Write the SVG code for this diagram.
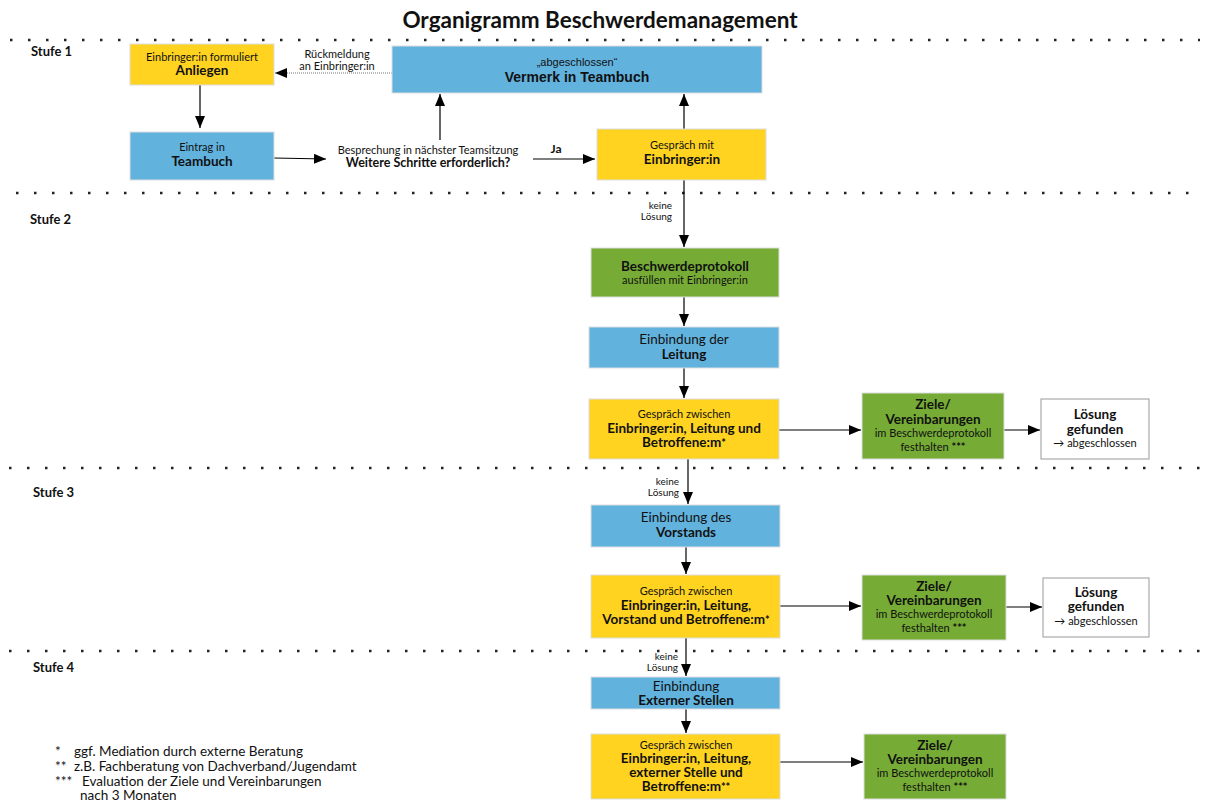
<svg xmlns="http://www.w3.org/2000/svg" width="1208" height="802" viewBox="0 0 1208 802">
<defs>
<marker id="ah" markerWidth="12" markerHeight="10" refX="12" refY="5" orient="auto" markerUnits="userSpaceOnUse">
<path d="M0,0 L12,5 L0,10 Z" fill="#000"/>
</marker>
<style>
text{font-family:Lato,"Noto Sans",sans-serif;fill:#111;text-anchor:middle}
.b{font-weight:bold}
.s{font-size:11px}
.t{font-size:13.5px}
.ar{font-family:"Liberation Sans",Arial,sans-serif}
.y{fill:#FFD320;stroke:#ddd;stroke-width:1}
.bl{fill:#62B2DE;stroke:#ddd;stroke-width:1}
.g{fill:#76AC36;stroke:#ddd;stroke-width:1}
.w{fill:#fff;stroke:#999;stroke-width:1}
.c{stroke:#000;stroke-width:1.2;fill:none;marker-end:url(#ah)}
.dot{stroke:#222;stroke-width:2.5;stroke-dasharray:2.5 15.5}
.st{font-size:13px;font-weight:bold;text-anchor:start}
.fn{font-size:13.5px;text-anchor:start}
.sup{font-size:11px;font-weight:bold}
</style>
</defs>
<rect width="1208" height="802" fill="#fff"/>
<text x="600" y="28" class="b" style="font-size:22.5px">Organigramm Beschwerdemanagement</text>
<g id="separators">
<line x1="10" y1="40" x2="1200" y2="40" class="dot"/>
<line x1="16" y1="193" x2="1200" y2="193" class="dot"/>
<line x1="9" y1="468" x2="1200" y2="468" class="dot"/>
<line x1="9" y1="651" x2="1200" y2="651" class="dot"/>
<text x="31" y="56" class="st">Stufe 1</text>
<text x="30" y="224" class="st">Stufe 2</text>
<text x="33" y="497" class="st">Stufe 3</text>
<text x="33" y="672" class="st">Stufe 4</text>
</g>
<g id="connectors">
<line x1="392" y1="73" x2="275" y2="73" class="c" style="stroke:#777;stroke-dasharray:1 1"/>
<text x="337" y="58" class="s">Rückmeldung</text>
<text x="337" y="70" class="s">an Einbringer:in</text>
<line x1="200" y1="85" x2="200" y2="128" class="c"/>
<line x1="274" y1="158" x2="326" y2="159" class="c"/>
<line x1="533" y1="159" x2="595" y2="159" class="c"/>
<text x="556" y="153" class="b" style="font-size:12px">Ja</text>
<line x1="440" y1="140" x2="440" y2="94" class="c"/>
<line x1="684" y1="129" x2="684" y2="94" class="c"/>
<line x1="684" y1="180" x2="684" y2="247" class="c"/>
<text x="672" y="209" style="font-size:10px;text-anchor:end">keine</text>
<text x="672" y="220" style="font-size:10px;text-anchor:end">Lösung</text>
<line x1="684" y1="297" x2="684" y2="326" class="c"/>
<line x1="684" y1="368" x2="684" y2="398" class="c"/>
<line x1="779" y1="430" x2="861" y2="430" class="c"/>
<line x1="1004" y1="430" x2="1040" y2="430" class="c"/>
<line x1="688" y1="459" x2="688" y2="504" class="c"/>
<text x="679" y="485" style="font-size:10px;text-anchor:end">keine</text>
<text x="679" y="496" style="font-size:10px;text-anchor:end">Lösung</text>
<line x1="686" y1="547" x2="686" y2="574" class="c"/>
<line x1="780" y1="606" x2="861" y2="606" class="c"/>
<line x1="1006" y1="607" x2="1042" y2="607" class="c"/>
<line x1="686" y1="638" x2="686" y2="676" class="c"/>
<text x="678" y="660" style="font-size:10px;text-anchor:end">keine</text>
<text x="678" y="671" style="font-size:10px;text-anchor:end">Lösung</text>
<line x1="686" y1="709" x2="686" y2="733" class="c"/>
<line x1="780" y1="762" x2="863" y2="762" class="c"/>
</g>
<g id="anliegen">
<rect x="130" y="44" width="144" height="41" class="y"/>
<text x="202" y="61" class="s">Einbringer:in formuliert</text>
<text x="202" y="75" class="b t">Anliegen</text>
</g>
<g id="eintrag">
<rect x="130" y="132" width="144" height="48" class="bl"/>
<text x="202" y="151" class="s">Eintrag in</text>
<text x="202" y="166" class="b t">Teambuch</text>
</g>
<g id="vermerk">
<rect x="392" y="46" width="370" height="47" class="bl"/>
<text x="577" y="66" class="ar" style="font-size:11px">„abgeschlossen“</text>
<text x="577" y="82" class="ar b" style="font-size:14px">Vermerk in Teambuch</text>
</g>
<g id="besprechung">
<text x="428" y="154" class="s">Besprechung in nächster Teamsitzung</text>
<text x="428" y="167" class="b" style="font-size:12.5px">Weitere Schritte erforderlich?</text>
</g>
<g id="gespraech-mit">
<rect x="597" y="129" width="169" height="51" class="y"/>
<text x="682" y="149" class="s">Gespräch mit</text>
<text x="682" y="164" class="b t">Einbringer:in</text>
</g>
<g id="protokoll">
<rect x="591" y="248" width="188" height="49" class="g"/>
<text x="685" y="271" class="b t">Beschwerdeprotokoll</text>
<text x="685" y="284" class="s">ausfüllen mit Einbringer:in</text>
</g>
<g id="leitung">
<rect x="589" y="327" width="190" height="41" class="bl"/>
<text x="684" y="344" class="t">Einbindung der</text>
<text x="684" y="359" class="b t">Leitung</text>
</g>
<g id="gespraech-2">
<rect x="589" y="399" width="190" height="60" class="y"/>
<text x="684" y="418" class="s">Gespräch zwischen</text>
<text x="684" y="433" class="b t">Einbringer:in, Leitung und</text>
<text x="684" y="447" class="b t">Betroffene:m<tspan class="sup">*</tspan></text>
</g>
<g id="ziele-2">
<rect x="862" y="393" width="142" height="66" class="g"/>
<text x="933" y="409" class="b t">Ziele/</text>
<text x="933" y="424" class="b t">Vereinbarungen</text>
<text x="933" y="437" class="s">im Beschwerdeprotokoll</text>
<text x="933" y="451" class="s">festhalten <tspan class="sup">***</tspan></text>
</g>
<g id="loesung-2">
<rect x="1041" y="399" width="108" height="60" class="w"/>
<text x="1095" y="419" class="b t">Lösung</text>
<text x="1095" y="434" class="b t">gefunden</text>
<text x="1095" y="447" class="s">→ abgeschlossen</text>
</g>
<g id="vorstand">
<rect x="591" y="505" width="189" height="42" class="bl"/>
<text x="686" y="522" class="t">Einbindung des</text>
<text x="686" y="537" class="b t">Vorstands</text>
</g>
<g id="gespraech-3">
<rect x="591" y="575" width="189" height="63" class="y"/>
<text x="686" y="595" class="s">Gespräch zwischen</text>
<text x="686" y="610" class="b t">Einbringer:in, Leitung,</text>
<text x="686" y="624" class="b t">Vorstand und Betroffene:m<tspan class="sup">*</tspan></text>
</g>
<g id="ziele-3">
<rect x="862" y="575" width="144" height="65" class="g"/>
<text x="934" y="591" class="b t">Ziele/</text>
<text x="934" y="605" class="b t">Vereinbarungen</text>
<text x="934" y="618" class="s">im Beschwerdeprotokoll</text>
<text x="934" y="632" class="s">festhalten <tspan class="sup">***</tspan></text>
</g>
<g id="loesung-3">
<rect x="1043" y="578" width="106" height="59" class="w"/>
<text x="1096" y="597" class="b t">Lösung</text>
<text x="1096" y="611" class="b t">gefunden</text>
<text x="1096" y="625" class="s">→ abgeschlossen</text>
</g>
<g id="extern">
<rect x="591" y="677" width="189" height="32" class="bl"/>
<text x="686" y="691" class="t">Einbindung</text>
<text x="686" y="705" class="b t">Externer Stellen</text>
</g>
<g id="gespraech-4">
<rect x="591" y="734" width="189" height="65" class="y"/>
<text x="686" y="749" class="s">Gespräch zwischen</text>
<text x="686" y="763" class="b t">Einbringer:in, Leitung,</text>
<text x="686" y="777" class="b t">externer Stelle und</text>
<text x="686" y="791" class="b t">Betroffene:m<tspan class="sup">**</tspan></text>
</g>
<g id="ziele-4">
<rect x="864" y="734" width="142" height="65" class="g"/>
<text x="935" y="750" class="b t">Ziele/</text>
<text x="935" y="764" class="b t">Vereinbarungen</text>
<text x="935" y="777" class="s">im Beschwerdeprotokoll</text>
<text x="935" y="791" class="s">festhalten <tspan class="sup">***</tspan></text>
</g>
<g id="footnotes">
<text x="55" y="756" class="fn">*</text>
<text x="74" y="756" class="fn">ggf. Mediation durch externe Beratung</text>
<text x="55" y="771" class="fn">**</text>
<text x="74" y="771" class="fn">z.B. Fachberatung von Dachverband/Jugendamt</text>
<text x="55" y="786" class="fn">***</text>
<text x="82" y="786" class="fn">Evaluation der Ziele und Vereinbarungen</text>
<text x="80" y="800" class="fn">nach 3 Monaten</text>
</g>
</svg>
